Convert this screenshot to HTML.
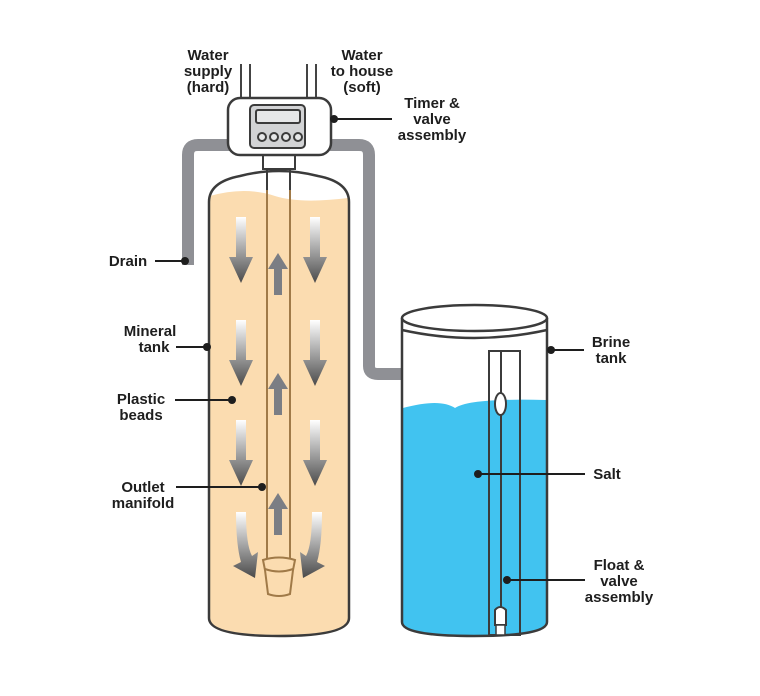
<!DOCTYPE html>
<html><head><meta charset="utf-8"><style>
html,body{margin:0;padding:0;background:#fff;}
svg{display:block;}
text{font-family:"Liberation Sans",sans-serif;font-size:15px;fill:#1e1e1e;font-weight:bold;}
</style></head><body>
<svg width="760" height="696" viewBox="0 0 760 696" xmlns="http://www.w3.org/2000/svg">
<defs>
<linearGradient id="g" x1="0" y1="0" x2="0" y2="1">
<stop offset="0" stop-color="#ffffff"/><stop offset="1" stop-color="#4a4a4a"/>
</linearGradient>
<symbol id="down" overflow="visible">
<path d="M-5,0 H5 V40 H12 L0,66 L-12,40 H-5 Z" fill="url(#g)"/>
</symbol>
<symbol id="up" overflow="visible">
<path d="M-4,42 H4 V16 H10 L0,0 L-10,16 H-4 Z" fill="#7b7e84"/>
</symbol>
</defs>

<path d="M188,265 V155 Q188,145 198,145 H230" fill="none" stroke="#8f9095" stroke-width="12"/>
<path d="M330,145 H359 Q369,145 369,155 V366 Q369,374 378,374 H402" fill="none" stroke="#8f9095" stroke-width="12"/>

<g stroke="#444" stroke-width="2">
<line x1="241" y1="64" x2="241" y2="99"/><line x1="250" y1="64" x2="250" y2="99"/>
<line x1="307" y1="64" x2="307" y2="99"/><line x1="316" y1="64" x2="316" y2="99"/>
</g>

<path d="M209,630 V202 Q209,182 240,176 Q279,166 318,176 Q349,182 349,202 V618 Q349,636 279,636 Q209,636 209,618 Z" fill="#fff"/>
<path d="M210,196 Q245,186 275,196 Q300,204 348,198 V618 Q348,635 279,635 Q210,635 210,618 Z" fill="#fbdcb0"/>
<path d="M209,618 V202 Q209,182 240,176 Q279,166 318,176 Q349,182 349,202 V618 Q349,636 279,636 Q209,636 209,618 Z" fill="none" stroke="#3b3b3b" stroke-width="2.5"/>

<rect x="263" y="153" width="32" height="16" fill="#fff" stroke="#3b3b3b" stroke-width="2"/>
<line x1="267" y1="168" x2="267" y2="560" stroke="#a07a48" stroke-width="2"/>
<line x1="290" y1="168" x2="290" y2="560" stroke="#a07a48" stroke-width="2"/>
<line x1="267" y1="168" x2="267" y2="190" stroke="#3b3b3b" stroke-width="2"/>
<line x1="290" y1="168" x2="290" y2="190" stroke="#3b3b3b" stroke-width="2"/>
<path d="M263,560 Q279,555 295,560 L293,570 L290,594 Q279,598 268,594 L265,570 Z" fill="#fbdcb0" stroke="#a07a48" stroke-width="2"/>
<path d="M265,569 Q279,574 293,569" fill="none" stroke="#a07a48" stroke-width="2"/>

<use href="#down" x="241" y="217"/><use href="#down" x="315" y="217"/>
<use href="#down" x="241" y="320"/><use href="#down" x="315" y="320"/>
<use href="#down" x="241" y="420"/><use href="#down" x="315" y="420"/>
<path d="M236,512 H246 Q246,545 252,556 L258,552 L255,578 L233,566 L241,562 Q236,545 236,512 Z" fill="url(#g)"/>
<path d="M322,512 H312 Q312,545 306,556 L300,552 L303,578 L325,566 L317,562 Q322,545 322,512 Z" fill="url(#g)"/>
<use href="#up" x="278" y="253"/><use href="#up" x="278" y="373"/><use href="#up" x="278" y="493"/>

<rect x="228" y="98" width="103" height="57" rx="12" fill="#fff" stroke="#3b3b3b" stroke-width="2.5"/>
<rect x="250" y="105" width="55" height="43" rx="4" fill="#d2d3d5" stroke="#3b3b3b" stroke-width="2"/>
<rect x="256" y="110" width="44" height="13" rx="2" fill="#e6e7e8" stroke="#3b3b3b" stroke-width="2"/>
<g fill="#e6e7e8" stroke="#3b3b3b" stroke-width="2">
<circle cx="262" cy="137" r="4"/><circle cx="274" cy="137" r="4"/><circle cx="286" cy="137" r="4"/><circle cx="298" cy="137" r="4"/>
</g>

<path d="M402,330 V622 Q402,636 474,636 Q547,636 547,622 V330" fill="#fff"/>
<path d="M403,408 Q440,398 455,408 Q470,398 546,400 V622 Q546,635 474,635 Q403,635 403,622 Z" fill="#41c3f0"/>
<path d="M402,318 V622 Q402,636 474,636 Q547,636 547,622 V318" fill="none" stroke="#3b3b3b" stroke-width="2.5"/>
<ellipse cx="474.5" cy="318" rx="72.5" ry="13" fill="#fff" stroke="#3b3b3b" stroke-width="2.5"/>
<path d="M402,330 Q474,346 547,330" fill="none" stroke="#3b3b3b" stroke-width="2.5"/>
<rect x="489" y="351" width="31" height="284" fill="none" stroke="#3b3b3b" stroke-width="2"/>
<line x1="501" y1="351" x2="501" y2="635" stroke="#3b3b3b" stroke-width="2"/>
<ellipse cx="500.5" cy="404" rx="5.5" ry="11" fill="#fff" stroke="#3b3b3b" stroke-width="2"/>
<path d="M495,610 Q500,604 506,610 V625 H495 Z" fill="#fff" stroke="#3b3b3b" stroke-width="2"/>
<rect x="496" y="625" width="9" height="10" fill="#fff" stroke="#3b3b3b" stroke-width="1.5"/>

<g stroke="#1e1e1e" stroke-width="2" fill="#1e1e1e">
<line x1="155" y1="261" x2="185" y2="261"/><circle cx="185" cy="261" r="4" stroke="none"/>
<line x1="176" y1="347" x2="207" y2="347"/><circle cx="207" cy="347" r="4" stroke="none"/>
<line x1="175" y1="400" x2="232" y2="400"/><circle cx="232" cy="400" r="4" stroke="none"/>
<line x1="176" y1="487" x2="262" y2="487"/><circle cx="262" cy="487" r="4" stroke="none"/>
<line x1="334" y1="119" x2="392" y2="119"/><circle cx="334" cy="119" r="4" stroke="none"/>
<line x1="550" y1="350" x2="584" y2="350"/><circle cx="551" cy="350" r="4" stroke="none"/>
<line x1="478" y1="474" x2="585" y2="474"/><circle cx="478" cy="474" r="4" stroke="none"/>
<line x1="507" y1="580" x2="585" y2="580"/><circle cx="507" cy="580" r="4" stroke="none"/>
</g>

<g text-anchor="middle">
<text x="208" y="60">Water</text><text x="208" y="76">supply</text><text x="208" y="92">(hard)</text>
<text x="362" y="60">Water</text><text x="362" y="76">to house</text><text x="362" y="92">(soft)</text>
<text x="432" y="108">Timer &amp;</text><text x="432" y="124">valve</text><text x="432" y="140">assembly</text>
<text x="128" y="266">Drain</text>
<text x="150" y="336">Mineral</text><text x="154" y="352">tank</text>
<text x="141" y="404">Plastic</text><text x="141" y="420">beads</text>
<text x="143" y="492">Outlet</text><text x="143" y="508">manifold</text>
<text x="611" y="347">Brine</text><text x="611" y="363">tank</text>
<text x="607" y="479">Salt</text>
<text x="619" y="570">Float &amp;</text><text x="619" y="586">valve</text><text x="619" y="602">assembly</text>
</g>
</svg>
</body></html>
